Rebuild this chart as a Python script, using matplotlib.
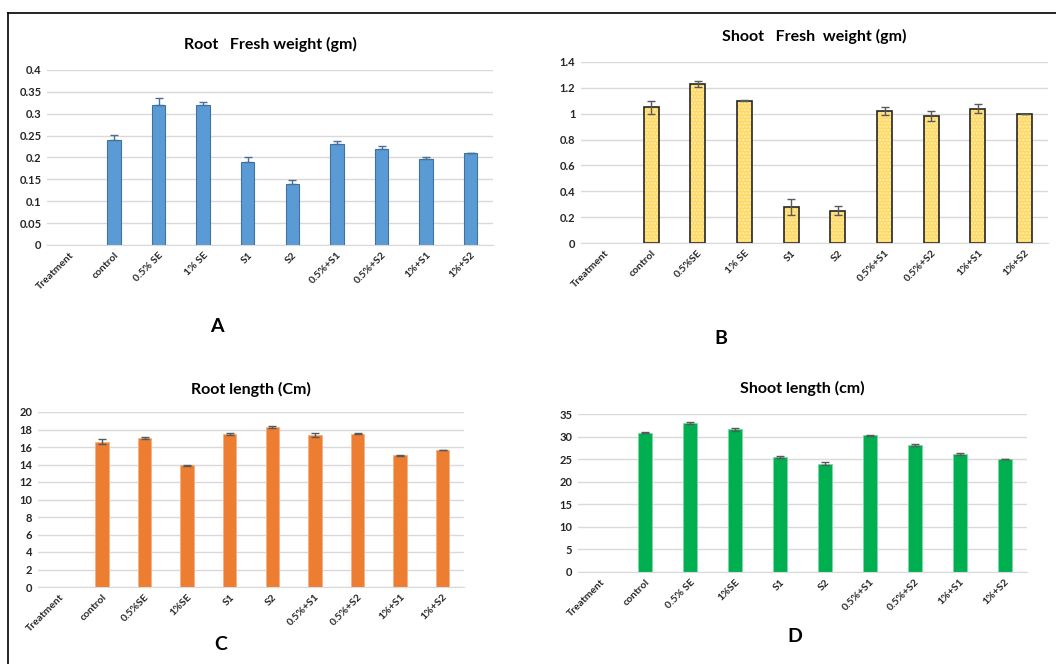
import numpy as np
import matplotlib
matplotlib.use("Agg")
from matplotlib import pyplot as plt
from matplotlib.lines import Line2D

plt.rcParams['font.family'] = ['Lato', 'DejaVu Sans']
plt.rcParams['font.weight'] = 'bold'

# data (Treatment column is empty)
labels_a = ['Treatment', 'control', '0.5% SE', '1% SE', 'S1', 'S2', '0.5%+S1', '0.5%+S2', '1%+S1', '1%+S2']
root_fw = [np.nan, 0.24, 0.32, 0.32, 0.19, 0.14, 0.23, 0.22, 0.196, 0.21]
root_fw_err = [0, 0.012, 0.015, 0.007, 0.01, 0.009, 0.008, 0.006, 0.005, 0]

labels_b = ['Treatment', 'control', '0.5%SE', '1% SE', 'S1', 'S2', '0.5%+S1', '0.5%+S2', '1%+S1', '1%+S2']
shoot_fw = [np.nan, 1.05, 1.23, 1.10, 0.28, 0.25, 1.02, 0.98, 1.04, 1.0]
shoot_fw_err = [0, 0.05, 0.02, 0.005, 0.06, 0.035, 0.03, 0.04, 0.035, 0]

labels_c = ['Treatment', 'control', '0.5%SE', '1%SE', 'S1', 'S2', '0.5%+S1', '0.5%+S2', '1%+S1', '1%+S2']
root_len = [np.nan, 16.6, 17.0, 13.9, 17.5, 18.3, 17.4, 17.5, 15.05, 15.7]
root_len_err = [0, 0.3, 0.1, 0.1, 0.1, 0.15, 0.25, 0.07, 0.07, 0]

labels_d = ['Treatment', 'control', '0.5% SE', '1%SE', 'S1', 'S2', '0.5%+S1', '0.5%+S2', '1%+S1', '1%+S2']
shoot_len = [np.nan, 30.9, 33.0, 31.6, 25.4, 24.0, 30.3, 28.1, 26.2, 25.0]
shoot_len_err = [0, 0.1, 0.2, 0.3, 0.2, 0.4, 0.15, 0.15, 0.2, 0]

W, H = 1056, 664
fig = plt.figure(figsize=(W / 100, H / 100), dpi=100)


def px_axes(left, right, top, bottom):
    return fig.add_axes([left / W, 1 - bottom / H, (right - left) / W, (bottom - top) / H])


def style(ax, labels, ymax, step, fmt):
    ax.set_xlim(-0.5, len(labels) - 0.5)
    ax.set_ylim(0, ymax)
    ticks = np.arange(0, ymax + step / 2, step)
    ax.set_yticks(ticks)
    ax.set_yticklabels([fmt(t) for t in ticks], fontsize=8, fontweight='bold', color='#262626')
    ax.set_xticks(range(len(labels)))
    ax.set_xticklabels(labels, rotation=45, ha='right', rotation_mode='anchor',
                       fontsize=7.5, fontweight='bold', color='#262626')
    ax.tick_params(length=0, pad=4)
    ax.grid(axis='y', color='#d9d9d9', linewidth=1)
    ax.set_axisbelow(True)
    for s in ['top', 'right', 'left']:
        ax.spines[s].set_visible(False)
    ax.spines['bottom'].set_color('#d9d9d9')


def fmt_dec(t):
    s = ('%.2f' % t).rstrip('0').rstrip('.')
    return s


x = np.arange(10)
ekw = dict(ecolor='#595959', elinewidth=1, capsize=3, capthick=1)

# A (error bars drawn upward only)
ax = px_axes(47, 493, 70, 245)
style(ax, labels_a, 0.4, 0.05, fmt_dec)
ax.bar(x, root_fw, width=0.3, color='#5b9bd5', edgecolor='#41719c', linewidth=0.8,
       yerr=[np.zeros(10), root_fw_err],
       error_kw=dict(ecolor='#4a6f96', elinewidth=1, capsize=3, capthick=1))
ax.set_title('Root   Fresh weight (gm)', fontsize=11.5, fontweight='bold', pad=15)
fig.text(217 / W, 1 - 327 / H, 'A', fontsize=14, fontweight='bold', ha='center', va='center')

# B
ax = px_axes(581, 1048, 62, 243)
style(ax, labels_b, 1.4, 0.2, fmt_dec)
ax.bar(x, shoot_fw, width=0.32, color='#ffd966', edgecolor='#ffeeb0', hatch='.....', linewidth=0)
ax.bar(x, shoot_fw, width=0.32, color='none', edgecolor='#262626', linewidth=1.2,
       yerr=shoot_fw_err, error_kw=ekw)
ax.set_title('Shoot   Fresh  weight (gm)', fontsize=11.5, fontweight='bold', pad=15)
fig.text(721 / W, 1 - 338 / H, 'B', fontsize=14, fontweight='bold', ha='center', va='center')

# C
ax = px_axes(38, 464, 412, 587)
style(ax, labels_c, 20, 2, lambda t: '%d' % t)
ax.bar(x, root_len, width=0.31, color='#ed7d31', edgecolor='#f4b183', linewidth=0.6,
       yerr=root_len_err, error_kw=ekw)
ax.set_title('Root length (Cm)', fontsize=11.5, fontweight='bold', pad=13)
fig.text(221 / W, 1 - 645 / H, 'C', fontsize=14, fontweight='bold', ha='center', va='center')

# D
ax = px_axes(578, 1027, 414, 572)
style(ax, labels_d, 35, 5, lambda t: '%d' % t)
ax.bar(x, shoot_len, width=0.31, color='#00b050', edgecolor='#7fd7a7', linewidth=0.6,
       yerr=shoot_len_err, error_kw=ekw)
ax.set_title('Shoot length (cm)', fontsize=11.5, fontweight='bold', pad=15)
fig.text(795 / W, 1 - 637 / H, 'D', fontsize=14, fontweight='bold', ha='center', va='center')

# frame lines around picture
fig.add_artist(Line2D([8 / W, 8 / W], [0, 1 - 13 / H], color='black', linewidth=1.2))
fig.add_artist(Line2D([8 / W, 1], [1 - 13 / H, 1 - 13 / H], color='black', linewidth=1.2))

fig.savefig('out.png', dpi=100)
